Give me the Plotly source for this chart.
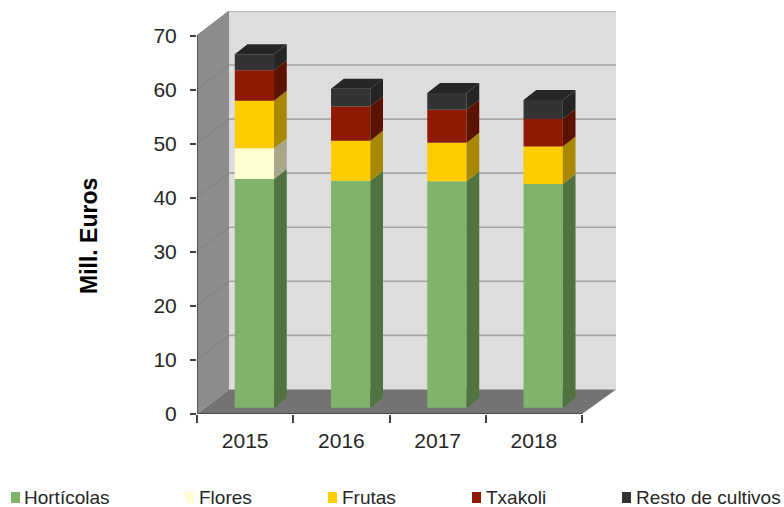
import plotly.graph_objects as go

years = ["2015", "2016", "2017", "2018"]
names = ["Hortícolas", "Flores", "Frutas", "Txakoli", "Resto de cultivos"]
horticolas = [42.3, 42.0, 41.9, 41.4]
flores = [5.7, 0, 0, 0]
frutas = [8.8, 7.4, 7.1, 6.9]
txakoli = [5.6, 6.3, 6.1, 5.1]
resto = [3.0, 3.3, 3.1, 3.5]
series = [horticolas, flores, frutas, txakoli, resto]
front = ["#80B46D", "#FFFFD2", "#FFCC00", "#8F1A04", "#333333"]
side = ["#52733F", "#A8A888", "#A88800", "#5C1200", "#242424"]
legend_swatch_x = [11, 185, 328, 472, 622]
legend_text_x = [24, 199, 342, 486, 636]

YMAX = 70
DX, DY = 0.333, 4.55          # wall depth in axis units
EXTRA = 0.02                  # back wall is slightly wider than the floor front edge
BX, BY, BW = 0.0964, 1.17, 0.408   # bar shift and width
BDX, BDY = 0.132, 1.85        # bar depth
xs = list(range(len(years)))
L, R = -0.5, 3.5
RB = R + DX + EXTRA
W, H = 784, 507
ML, MT, MR, MB = 197, 11, 168, 93
PW, PH = W - ML - MR, H - MT - MB

def poly(pts):
    return "M" + " L".join(f"{x},{y}" for x, y in pts) + " Z"

def paper_x(p):
    return (p - ML) / PW

def paper_y(p):
    return 1 - (p - MT) / PH

shapes = [
    dict(type="path", path=poly([(L+DX, DY), (RB, DY), (RB, YMAX+DY), (L+DX, YMAX+DY)]), fillcolor="#DDDDDD", line_width=0, layer="below"),
    dict(type="path", path=poly([(L, 0), (L, YMAX), (L+DX, YMAX+DY), (L+DX, DY)]), fillcolor="#8C8C8C", line_width=0, layer="below"),
    dict(type="path", path=poly([(L, 0), (R, 0), (RB, DY), (L+DX, DY)]), fillcolor="#737373", line_width=0, layer="below"),
]
for v in range(10, YMAX + 1, 10):
    shapes.append(dict(type="line", x0=L+DX, x1=RB, y0=v+DY, y1=v+DY, line=dict(color="#A6A6A6", width=1.6), layer="below"))
    shapes.append(dict(type="line", x0=L, x1=L+DX, y0=v, y1=v+DY, line=dict(color="#808080", width=1), layer="below"))

annotations = [dict(text="<b>Mill. Euros</b>", x=paper_x(74), y=paper_y(236), xref="paper", yref="paper",
                    textangle=-90, showarrow=False, font=dict(size=23, color="black"))]
for k, name in enumerate(names):
    shapes.append(dict(type="rect", xref="paper", yref="paper", x0=paper_x(legend_swatch_x[k]), x1=paper_x(legend_swatch_x[k] + 9),
                       y0=paper_y(503), y1=paper_y(492), fillcolor=front[k], line_width=0))
    annotations.append(dict(text=name, x=paper_x(legend_text_x[k] - 2), y=paper_y(497), xref="paper", yref="paper",
                            xanchor="left", yanchor="middle", showarrow=False,
                            font=dict(size=19, color="#262626")))

fig = go.Figure()
base = [0.0] * len(xs)
for k, (name, vals) in enumerate(zip(names, series)):
    fig.add_trace(go.Bar(
        x=[i + BX for i in xs], y=vals, base=[b + BY for b in base], width=BW, name=name,
        marker=dict(color=front[k], line_width=0), showlegend=False, hoverinfo="skip"))
    px, py = [], []
    for i, v in enumerate(vals):
        if v <= 0:
            continue
        x1 = i + BX + BW / 2
        y0, y1 = base[i] + BY, base[i] + BY + v
        px += [x1, x1 + BDX, x1 + BDX, x1, x1, None]
        py += [y0, y0 + BDY, y1 + BDY, y1, y0, None]
    fig.add_trace(go.Scatter(x=px, y=py, mode="lines", line_width=0, fill="toself", fillcolor=side[k],
                             showlegend=False, hoverinfo="skip"))
    base = [b + v for b, v in zip(base, vals)]

# top faces
tx, ty = [], []
for i, b in enumerate(base):
    x0, x1 = i + BX - BW / 2, i + BX + BW / 2
    y = b + BY
    tx += [x0, x1, x1 + BDX, x0 + BDX, x0, None]
    ty += [y, y, y + BDY, y + BDY, y, None]
fig.add_trace(go.Scatter(x=tx, y=ty, mode="lines", line_width=0, fill="toself", fillcolor="#262626",
                         showlegend=False, hoverinfo="skip"))

# axis lines
fig.add_trace(go.Scatter(x=[L, L, R], y=[YMAX, 0, 0], mode="lines", line=dict(color="#404040", width=1.5),
                         cliponaxis=False, showlegend=False, hoverinfo="skip"))

fig.update_layout(
    width=W, height=H, barmode="overlay", paper_bgcolor="white", plot_bgcolor="white",
    margin=dict(l=ML, r=MR, t=MT, b=MB, autoexpand=False),
    shapes=shapes,
    annotations=annotations,
    font=dict(family="Liberation Sans", color="#262626"),
    showlegend=False,
    xaxis=dict(range=[L, RB], tickvals=xs, ticktext=years, ticks="outside", ticklen=8, tickcolor="rgba(0,0,0,0)",
               ticklabelstandoff=0, showgrid=False, zeroline=False, showline=False, tickfont=dict(size=21),
               minor=dict(tickvals=[-0.5, 0.5, 1.5, 2.5, 3.5], ticks="outside", ticklen=8, tickwidth=1.5, tickcolor="#404040", showgrid=False)),
    yaxis=dict(range=[0, YMAX + DY], tickvals=list(range(0, YMAX + 1, 10)), ticks="outside", ticklen=6, tickwidth=1.5,
               ticklabelstandoff=9, tickcolor="#404040", showgrid=False, zeroline=False, showline=False, tickfont=dict(size=21)),
)
fig.write_html("out.html", config={"displayModeBar": False},
               post_script="document.body.style.margin='0';document.documentElement.style.overflow='hidden';")
